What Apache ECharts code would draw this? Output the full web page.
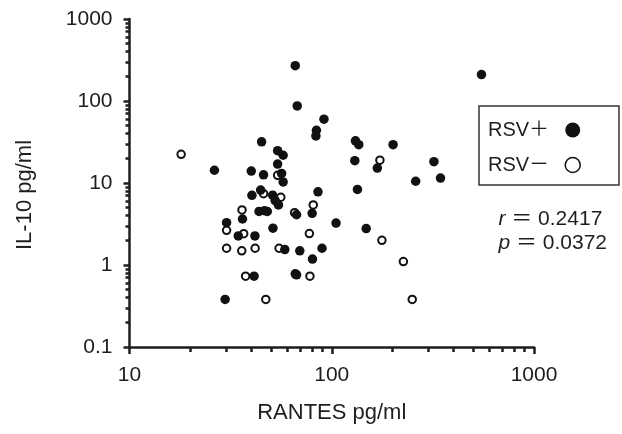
<!DOCTYPE html>
<html lang="en">
<head>
    <meta charset="UTF-8">
    <title>IL-10 vs RANTES</title>
    <style>
        body, html {
            margin: 0;
            width: 100%;
            height: 100%;
            background: #fff;
        }
        #container {
            width: 622px;
            height: 434px;
        }
    </style>
    <script src="https://cdn.jsdelivr.net/npm/echarts@6/dist/echarts.min.js"></script>
</head>
<body>
<div id="container"></div>
<script type="text/javascript">
    // [RANTES, IL-10]
    var rsvPositive = [
        [66, 270], [550, 210], [67.5, 87], [91.5, 60], [84, 44], [83.5, 37.5],
        [45, 31.8], [131, 32.7], [136, 29.3], [201, 29.3], [54, 24.8], [57.5, 21.8],
        [130, 18.7], [320, 18.2], [54, 17], [26.3, 14.3], [40, 14], [168, 15.2],
        [46, 12.6], [56.5, 13.1], [345, 11.5], [260, 10.5], [57.5, 10.3], [134, 8.35],
        [85.5, 7.8], [44.5, 8.2], [40.3, 7.08], [51, 7.1], [52.5, 6.1], [54.5, 5.4],
        [36.2, 3.64], [43.7, 4.5], [46.5, 4.6], [48, 4.5], [67, 4.1], [80, 4.27],
        [105, 3.25], [30.2, 3.28], [34.5, 2.26], [41.7, 2.26], [51.2, 2.81], [148, 2.78],
        [58.6, 1.54], [69.5, 1.49], [89.5, 1.6], [80.3, 1.18], [41.3, 0.73], [66, 0.78],
        [67, 0.76], [29.7, 0.38]
    ];
    var rsvNegative = [
        [18, 22.4], [54, 12.4], [46, 7.4], [56, 6.7], [81, 5.4], [36, 4.7],
        [65.5, 4.35], [30.2, 2.65], [36.7, 2.41], [77.5, 2.42], [173, 19], [177, 2.0],
        [226, 1.1], [30.2, 1.6], [35.9, 1.49], [41.8, 1.6], [54.9, 1.6], [37.5, 0.73],
        [78, 0.73], [47.2, 0.38], [250, 0.38]
    ];
    var xMinorTicks = [20, 30, 40, 50, 60, 70, 80, 90, 200, 300, 400, 500, 600, 700, 800, 900];
    var yMinorTicks = [0.2, 0.3, 0.4, 0.5, 0.6, 0.7, 0.8, 0.9, 2, 3, 4, 5, 6, 7, 8, 9,
        20, 30, 40, 50, 60, 70, 80, 90, 200, 300, 400, 500, 600, 700, 800, 900];
    var stats = [['r', '0.2417'], ['p', '0.0372']];

    var font = '"Liberation Sans", Arial, "Noto Sans CJK JP", sans-serif';
    var ink = '#1e1e1e';
    var posName = 'RSV＋  ';
    var negName = 'RSV－  ';

    var myChart = echarts.init(document.getElementById('container'));

    var statText = stats.map(function (s) {
        return '{i|' + s[0] + '}{n| ＝ ' + s[1] + '}';
    }).join('\n');

    function plainNumber(v) {
        return String(+v.toPrecision(6));
    }

    var option = {
        animation: false,
        backgroundColor: '#fff',
        grid: {left: 129.5, right: 88, top: 19, bottom: 87},
        legend: {
            left: 479, top: 106, orient: 'vertical', align: 'right',
            itemWidth: 15, itemHeight: 15, itemGap: 15,
            padding: [14, 38, 10, 9],
            borderColor: '#333', borderWidth: 1.5,
            textStyle: {fontFamily: font, fontSize: 20, color: ink},
            data: [
                {name: posName, icon: 'circle', itemStyle: {color: '#111'}},
                {name: negName, icon: 'circle', itemStyle: {color: '#fff', borderColor: '#111', borderWidth: 1.5}}
            ]
        },
        xAxis: [{
            type: 'log', logBase: 10, min: 10, max: 1000,
            axisLine: {onZero: false, lineStyle: {color: ink, width: 2.5}},
            axisTick: {length: 7, lineStyle: {color: ink, width: 2.5}},
            axisLabel: {fontFamily: font, fontSize: 21, color: ink, margin: 18, formatter: plainNumber},
            splitLine: {show: false},
            name: 'RANTES pg/ml', nameLocation: 'middle', nameGap: 55,
            nameTextStyle: {fontFamily: font, fontSize: 22, color: ink}
        }, {
            type: 'value', min: 1, max: 3, position: 'bottom',
            axisLine: {show: false, onZero: false},
            axisTick: {
                length: 5, lineStyle: {color: ink, width: 2.5},
                customValues: xMinorTicks.map(function (v) { return Math.log10(v); })
            },
            axisLabel: {show: false},
            splitLine: {show: false}
        }],
        yAxis: [{
            type: 'log', logBase: 10, min: 0.1, max: 1000,
            axisLine: {onZero: false, lineStyle: {color: ink, width: 2.5}},
            axisTick: {length: 6, lineStyle: {color: ink, width: 2.5}},
            axisLabel: {fontFamily: font, fontSize: 21, color: ink, margin: 17, formatter: plainNumber},
            splitLine: {show: false}
        }, {
            type: 'value', min: -1, max: 3, position: 'left',
            axisLine: {show: false, onZero: false},
            axisTick: {
                length: 4, lineStyle: {color: ink, width: 2.5},
                customValues: yMinorTicks.map(function (v) { return Math.log10(v); })
            },
            axisLabel: {show: false},
            splitLine: {show: false}
        }],
        graphic: [{
            type: 'text', x: 25, y: 195, rotation: Math.PI / 2,
            style: {
                text: 'IL-10 pg/ml', font: '22px ' + font, fill: ink,
                textAlign: 'center', textVerticalAlign: 'middle'
            }
        }, {
            type: 'text', right: 15, top: 207,
            style: {
                text: statText, fill: ink, align: 'right', lineHeight: 24,
                rich: {
                    i: {fontFamily: font, fontSize: 21, fontStyle: 'italic', fill: ink, lineHeight: 24},
                    n: {fontFamily: font, fontSize: 21, fill: ink, lineHeight: 24}
                }
            }
        }],
        series: [{
            name: negName, type: 'scatter', data: rsvNegative,
            symbol: 'circle', symbolSize: 7.5,
            itemStyle: {color: '#fff', borderColor: '#111', borderWidth: 2, opacity: 1}
        }, {
            name: posName, type: 'scatter', data: rsvPositive,
            symbol: 'circle', symbolSize: 9.5,
            itemStyle: {color: '#111', opacity: 1}
        }]
    };

    myChart.setOption(option);
</script>
</body>
</html>
